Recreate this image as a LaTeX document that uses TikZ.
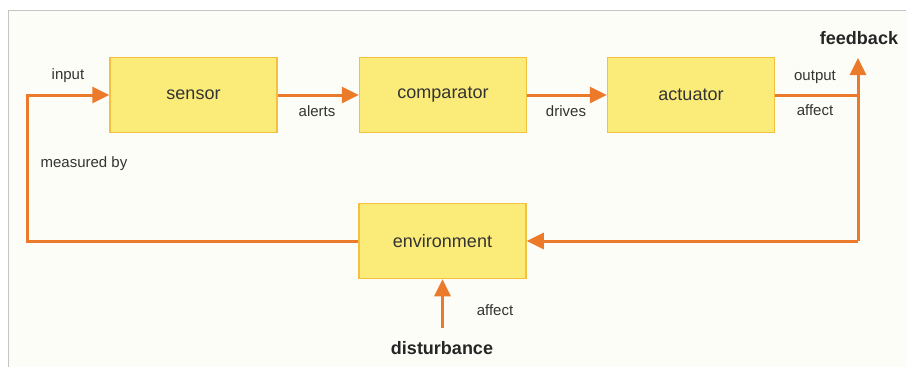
\documentclass[tikz,border=0pt]{standalone}
\usepackage{fontspec}
\setmainfont{Liberation Sans}
\usetikzlibrary{arrows.meta}
\definecolor{arr}{HTML}{EC7A2B}
\definecolor{boxfill}{HTML}{FBEC79}
\definecolor{boxline}{HTML}{F5C03E}
\definecolor{bgc}{HTML}{FDFDF8}
\definecolor{framec}{HTML}{C4C4C4}
\definecolor{txt}{HTML}{333333}
\tikzset{
  blockbox/.style={draw=boxline, fill=boxfill, line width=1.5pt, minimum width=167pt, minimum height=75pt, inner sep=0pt, font=\fontsize{18}{21}\selectfont, text=txt},
  lbl/.style={font=\fontsize{15}{18}\selectfont, text=txt, inner sep=0pt},
  bold/.style={font=\fontsize{18}{21}\selectfont\bfseries, text=black!85, inner sep=0pt},
  flow/.style={draw=arr, line width=3pt},
  flowarrow/.style={flow, -{Triangle[length=17pt, width=16pt]}}
}
\begin{document}
\begin{tikzpicture}[x=1pt, y=-1pt]
\useasboundingbox (0,0) rectangle (906,367);
\fill[white] (0,0) rectangle (906,367);
\fill[bgc] (8,10) rectangle (906,367);
\draw[framec, line width=1pt] (8,367) -- (8,10) -- (906,10);

\node[blockbox] (sensor) at (193.5,95) {sensor};
\node[blockbox] (comp) at (443,95) {comparator};
\node[blockbox] (act) at (691,95) {actuator};
\node[blockbox] (env) at (442.5,241) {environment};

\coordinate (lb) at (27,241);
\coordinate (lt) at (27,95);
\coordinate (rm) at (858,95);
\coordinate (rb) at (858,241);
\coordinate (rt) at (858,58);
\coordinate (ds) at (442.5,328);

\draw[flowarrow] (env.west) -- (lb) -- (lt) -- (sensor.west);
\draw[flowarrow] (sensor.east) -- (comp.west);
\draw[flowarrow] (comp.east) -- (act.west);
\draw[flow] (act.east) -- (rm);
\draw[flowarrow] (rb) -- (rt);
\draw[flowarrow] (rb) -- (env.east);
\draw[flowarrow] (ds) -- (env.south);

\node[lbl] (tinput) at (68,76) {input};
\node[lbl] (talerts) at (317,111) {alerts};
\node[lbl] (tdrives) at (566,111) {drives};
\node[lbl] (toutput) at (815,77) {output};
\node[lbl] (taffect) at (815,110) {affect};
\node[lbl] (tmeas) at (84,164) {measured by};
\node[lbl] (taffect2) at (495,310) {affect};
\node[bold] (tfeed) at (859,38) {feedback};
\node[bold] (tdist) at (442,348) {disturbance};
\end{tikzpicture}
\end{document}
